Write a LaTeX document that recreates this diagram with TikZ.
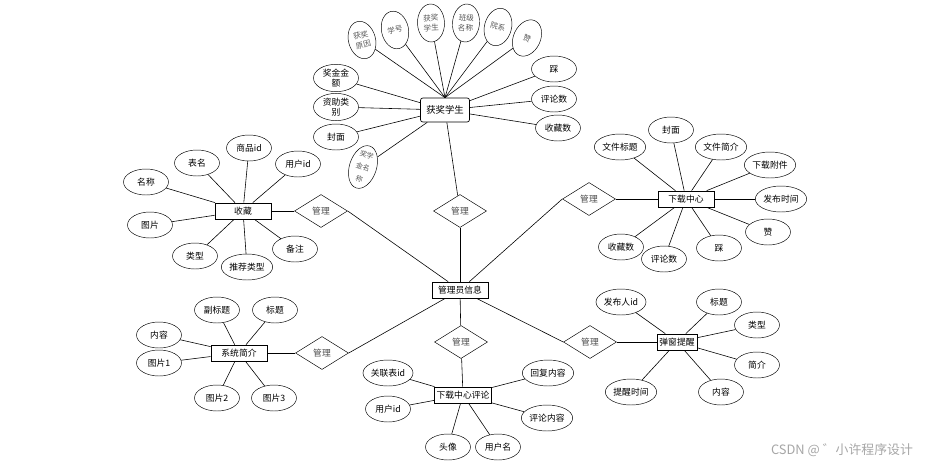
\documentclass[tikz,border=0pt]{standalone}
\usepackage{fontspec}
\setmainfont{Noto Sans CJK SC}
\usetikzlibrary{positioning,shapes.geometric}
\tikzset{
  ent/.style ={draw,line width=0.6pt,inner xsep=2pt,minimum width=16.8mm,minimum height=4.8mm,
               font=\fontsize{7.5}{9}\selectfont,fill=white},
  entb/.style={ent,rounded corners=2pt,minimum width=14.7mm,minimum height=7.2mm,font=\fontsize{8}{9}\selectfont},
  attr/.style={draw,ellipse,inner sep=0.5pt,minimum width=13.5mm,minimum height=7.8mm,align=center,
               font=\fontsize{7.5}{8.5}\selectfont,fill=white},
  tattr/.style={attr,minimum width=8.1mm,minimum height=11.4mm,text=black!65,font=\fontsize{6.5}{8.5}\selectfont},
  rel/.style ={draw,diamond,aspect=1.6,inner sep=0pt,minimum width=15.9mm,minimum height=9.9mm,
               font=\fontsize{7.5}{9}\selectfont,text=black!70,fill=white},
  link/.style={line width=0.5pt},
  wm/.style  ={text=black!35,font=\fontsize{11}{13}\selectfont},
}
\begin{document}
\begin{tikzpicture}[x=0.03cm,y=-0.03cm]
\useasboundingbox (0,0) rectangle (941,466);
% centre
\node[ent] (main) at (460,290) {管理员信息};
\node[rel] (mgrT) at (460,211) {管理};
\node[rel] (mgrL) at (321,211) {管理};
\node[rel] (mgrR) at (589,199) {管理};
\node[rel] (mgrBL) at (322,353) {管理};
\node[rel] (mgrB) at (461,342) {管理};
\node[rel] (mgrBR) at (590,342) {管理};
\draw[link] (mgrT) -- (main);
\draw[link] (mgrL.east) -- (main);
\draw[link] (mgrR.west) -- (main);
\draw[link] (mgrBL.east) -- (main);
\draw[link] (mgrB) -- (main);
\draw[link] (mgrBR.west) -- (main);
% 获奖学生
\node[entb] (hj) at (445,110) {获奖学生};
\node[tattr,rotate=15] (hjYy) at (362,40) {获奖\\原因};
\node[tattr,rotate=12] (hjXh) at (395,30) {学号};
\node[tattr,rotate=2] (hjXs) at (431,23) {获奖\\学生};
\node[tattr,rotate=-5] (hjBj) at (466,23) {班级\\名称};
\node[tattr,rotate=-15] (hjYx) at (498,27) {院系};
\node[tattr,rotate=-25] (hjZan) at (527,38) {赞};
\node[attr] (hjCai) at (554,69) {踩};
\node[attr] (hjPl) at (554,99) {评论数};
\node[attr] (hjSc) at (558,128) {收藏数};
\node[attr] (hjJe) at (336,78) {奖金金\\额};
\node[attr] (hjLb) at (336,107) {资助类\\别};
\node[attr] (hjFm) at (336,137) {封面};
\node[tattr,rotate=-18,inner sep=0pt,font=\fontsize{6}{10.5}\selectfont] (hjMc) at (363,167) {奖学\\金名\\称};
\draw[link] (hjYy) -- (hj.north);
\draw[link] (hjXh) -- (hj.north);
\draw[link] (hjXs) -- (hj.north);
\draw[link] (hjBj) -- (hj.north);
\draw[link] (hjYx) -- (hj.north);
\draw[link] (hjZan) -- (hj.north);
\draw[link] (hjCai) -- (hj);
\draw[link] (hjPl) -- (hj);
\draw[link] (hjSc) -- (hj);
\draw[link] (hjJe) -- (hj);
\draw[link] (hjLb) -- (hj);
\draw[link] (hjFm) -- (hj);
\draw[link] (hjMc) -- (hj);
\draw[link] (hj) -- (mgrT);
% 收藏
\node[ent] (sc) at (243,211) {收藏};
\node[attr] (scMc) at (146,182) {名称};
\node[attr] (scBm) at (197,163) {表名};
\node[attr] (scSp) at (249,148) {商品id};
\node[attr] (scYh) at (298,164) {用户id};
\node[attr] (scTp) at (150,225) {图片};
\node[attr] (scLx) at (195,256) {类型};
\node[attr] (scTj) at (247,267) {推荐类型};
\node[attr] (scBz) at (295,249) {备注};
\draw[link] (scMc) -- (sc);
\draw[link] (scBm) -- (sc);
\draw[link] (scSp) -- (sc);
\draw[link] (scYh) -- (sc);
\draw[link] (scTp) -- (sc);
\draw[link] (scLx) -- (sc);
\draw[link] (scTj) -- (sc);
\draw[link] (scBz) -- (sc);
\draw[link] (sc) -- (mgrL);
% 下载中心
\node[ent] (xz) at (686,199) {下载中心};
\node[attr] (xzBt) at (620,147) {文件标题};
\node[attr] (xzFm) at (671,130) {封面};
\node[attr] (xzJj) at (721,147) {文件简介};
\node[attr] (xzFj) at (770,165) {下载附件};
\node[attr] (xzSj) at (781,199) {发布时间};
\node[attr] (xzZan) at (768,232) {赞};
\node[attr] (xzCai) at (719,248) {踩};
\node[attr] (xzPl) at (664,259) {评论数};
\node[attr] (xzSc) at (621,247) {收藏数};
\draw[link] (xzBt) -- (xz);
\draw[link] (xzFm) -- (xz);
\draw[link] (xzJj) -- (xz);
\draw[link] (xzFj) -- (xz);
\draw[link] (xzSj) -- (xz);
\draw[link] (xzZan) -- (xz);
\draw[link] (xzCai) -- (xz);
\draw[link] (xzPl) -- (xz);
\draw[link] (xzSc) -- (xz);
\draw[link] (mgrR) -- (xz);
% 系统简介
\node[ent] (xt) at (239,353) {系统简介};
\node[attr] (xtFb) at (217,310) {副标题};
\node[attr] (xtBt) at (275,310) {标题};
\node[attr] (xtNr) at (159,335) {内容};
\node[attr] (xtT1) at (159,363) {图片1};
\node[attr] (xtT2) at (217,398) {图片2};
\node[attr] (xtT3) at (274,398) {图片3};
\draw[link] (xtFb) -- (xt);
\draw[link] (xtBt) -- (xt);
\draw[link] (xtNr) -- (xt);
\draw[link] (xtT1) -- (xt);
\draw[link] (xtT2) -- (xt);
\draw[link] (xtT3) -- (xt);
\draw[link] (xt) -- (mgrBL);
% 下载中心评论
\node[ent] (pl) at (463,395) {下载中心评论};
\node[attr] (plGl) at (388,373) {关联表id};
\node[attr] (plYh) at (388,409) {用户id};
\node[attr] (plHf) at (548,373) {回复内容};
\node[attr] (plNr) at (547,418) {评论内容};
\node[attr] (plTx) at (448,447) {头像};
\node[attr] (plMc) at (498,447) {用户名};
\draw[link] (plGl) -- (pl);
\draw[link] (plYh) -- (pl);
\draw[link] (plHf) -- (pl);
\draw[link] (plNr) -- (pl);
\draw[link] (plTx) -- (pl);
\draw[link] (plMc) -- (pl);
\draw[link] (mgrB) -- (pl);
% 弹窗提醒
\node[ent,minimum width=0pt] (tx) at (677,342) {弹窗提醒};
\node[attr] (txFb) at (621,302) {发布人id};
\node[attr] (txBt) at (719,302) {标题};
\node[attr] (txLx) at (757,325) {类型};
\node[attr] (txJj) at (757,365) {简介};
\node[attr] (txNr) at (721,392) {内容};
\node[attr] (txSj) at (631,392) {提醒时间};
\draw[link] (txFb) -- (tx);
\draw[link] (txBt) -- (tx);
\draw[link] (txLx) -- (tx);
\draw[link] (txJj) -- (tx);
\draw[link] (txNr) -- (tx);
\draw[link] (txSj) -- (tx);
\draw[link] (mgrBR) -- (tx);
\node[wm] (mark) at (842,450) {CSDN @ ゛小许程序设计};
\end{tikzpicture}
\end{document}
